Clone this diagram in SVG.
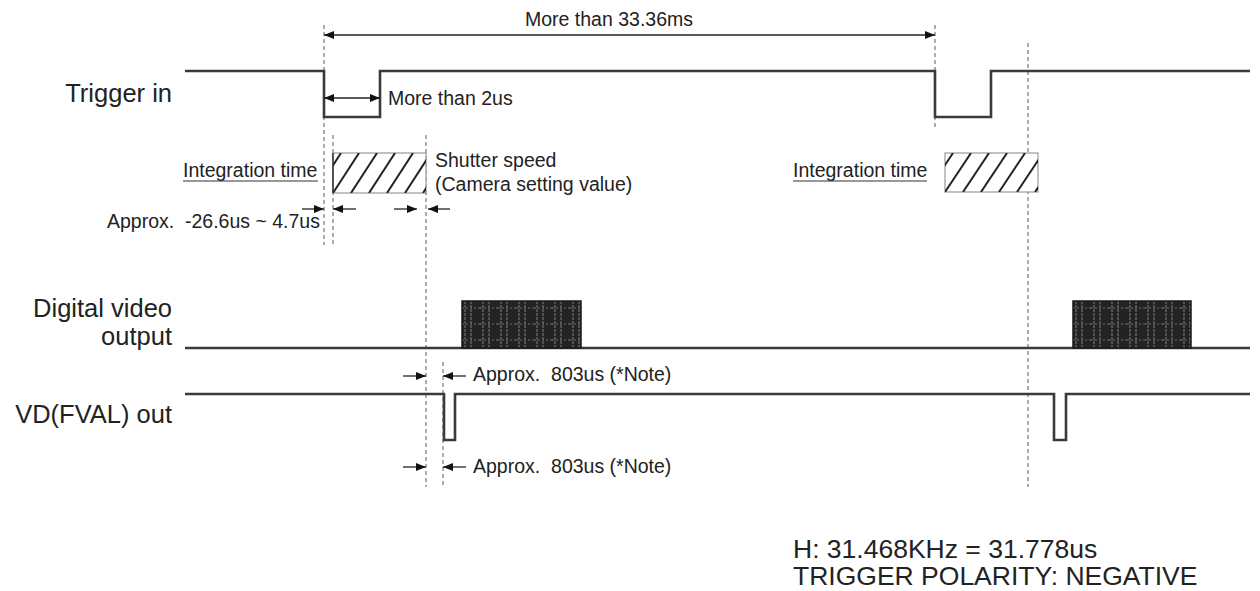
<svg xmlns="http://www.w3.org/2000/svg" width="1260" height="591" viewBox="0 0 1260 591">
<style>
.sig{fill:none;stroke:#3a3a3a;stroke-width:2.6;stroke-linejoin:miter}
.dash{fill:none;stroke:#777;stroke-width:1.2;stroke-dasharray:4 3}
.dim{fill:none;stroke:#222;stroke-width:1.3}
.t{font-family:"Liberation Sans",Arial,sans-serif;fill:#222}
.big{font-size:25.5px}
.sm{font-size:19.5px}
.pre{white-space:pre}
.note{font-size:26.5px}
.hbox{fill:#fff;stroke:#999;stroke-width:1.2}
.hatch{stroke:#222;stroke-width:2}
.ul{stroke:#333;stroke-width:1.2}
</style>
<defs>
<marker id="ah" viewBox="0 0 10 8" refX="10" refY="4" markerWidth="10" markerHeight="8" markerUnits="userSpaceOnUse" orient="auto-start-reverse">
<path d="M0,0 L10,4 L0,8 Z" fill="#111"/>
</marker>
<pattern id="data" patternUnits="userSpaceOnUse" x="462" y="301" width="18" height="16">
<rect width="18" height="16" fill="#232323"/>
<line x1="3" y1="0" x2="3" y2="16" stroke="#8a8a8a" stroke-width="0.9" stroke-dasharray="3 1"/>
<line x1="9" y1="0" x2="9" y2="16" stroke="#8a8a8a" stroke-width="0.9" stroke-dasharray="3 1"/>
<line x1="0" y1="7" x2="18" y2="7" stroke="#7a7a7a" stroke-width="0.9" stroke-dasharray="2 2"/>
</pattern>
<pattern id="data2" patternUnits="userSpaceOnUse" x="1073" y="301" width="18" height="16">
<rect width="18" height="16" fill="#232323"/>
<line x1="3" y1="0" x2="3" y2="16" stroke="#8a8a8a" stroke-width="0.9" stroke-dasharray="3 1"/>
<line x1="9" y1="0" x2="9" y2="16" stroke="#8a8a8a" stroke-width="0.9" stroke-dasharray="3 1"/>
<line x1="0" y1="7" x2="18" y2="7" stroke="#7a7a7a" stroke-width="0.9" stroke-dasharray="2 2"/>
</pattern>
<clipPath id="c1"><rect x="333" y="153" width="93" height="40"/></clipPath>
<clipPath id="c2"><rect x="945" y="153" width="93" height="39"/></clipPath>
</defs>
<rect width="1260" height="591" fill="#fff"/>

<g id="guides">
<line class="dash" x1="324" y1="25" x2="324" y2="245"/>
<line class="dash" x1="333" y1="135" x2="333" y2="245"/>
<line class="dash" x1="426" y1="135" x2="426" y2="487"/>
<line class="dash" x1="443" y1="362" x2="443" y2="487"/>
<line class="dash" x1="935" y1="25" x2="935" y2="130"/>
<line class="dash" x1="1028" y1="43" x2="1028" y2="487"/>
</g>

<g id="trigger-in">
<text class="t big" x="172" y="102" text-anchor="end">Trigger in</text>
<polyline class="sig" points="185,71 324,71 324,117 380,117 380,71 935,71 935,117 991,117 991,71 1250,71"/>
</g>

<g id="integration-1">
<text class="t sm" x="183" y="177">Integration time</text>
<line class="ul" x1="183" y1="181" x2="318" y2="181"/>
<rect class="hbox" x="333" y="153" width="93" height="40"/>
<g clip-path="url(#c1)" class="hatch">
<line x1="315" y1="193" x2="341" y2="153"/>
<line x1="333" y1="193" x2="359" y2="153"/>
<line x1="351" y1="193" x2="377" y2="153"/>
<line x1="369" y1="193" x2="395" y2="153"/>
<line x1="387" y1="193" x2="413" y2="153"/>
<line x1="405" y1="193" x2="431" y2="153"/>
<line x1="423" y1="193" x2="449" y2="153"/>
</g>
<line x1="333" y1="153" x2="333" y2="193" stroke="#333" stroke-width="1.5"/>
<text class="t sm" x="435" y="167">Shutter speed</text>
<text class="t sm" x="435" y="191">(Camera setting value)</text>
<text class="t sm" x="107" y="228">Approx.</text>
<text class="t sm" x="185" y="228">-26.6us ~ 4.7us</text>
</g>

<g id="integration-2">
<text class="t sm" x="793" y="177">Integration time</text>
<line class="ul" x1="793" y1="181" x2="927" y2="181"/>
<rect class="hbox" x="945" y="153" width="93" height="39"/>
<g clip-path="url(#c2)" class="hatch">
<line x1="927" y1="192" x2="953" y2="153"/>
<line x1="945" y1="192" x2="971" y2="153"/>
<line x1="963" y1="192" x2="989" y2="153"/>
<line x1="981" y1="192" x2="1007" y2="153"/>
<line x1="999" y1="192" x2="1025" y2="153"/>
<line x1="1017" y1="192" x2="1043" y2="153"/>
<line x1="1035" y1="192" x2="1061" y2="153"/>
</g>
</g>

<g id="digital-video-output">
<text class="t big" x="172" y="317" text-anchor="end">Digital video</text>
<text class="t big" x="172" y="345" text-anchor="end">output</text>
<line class="sig" x1="185" y1="348" x2="1250" y2="348"/>
<rect x="462" y="301" width="119" height="47" fill="url(#data)" stroke="#1a1a1a" stroke-width="1.5"/>
<rect x="1073" y="301" width="118" height="47" fill="url(#data2)" stroke="#1a1a1a" stroke-width="1.5"/>
</g>

<g id="vd-fval-out">
<text class="t big" x="172" y="423" text-anchor="end">VD(FVAL) out</text>
<polyline class="sig" points="185,394 444,394 444,440 455,440 455,394 1054,394 1054,440 1066,440 1066,394 1250,394"/>
<text class="t sm pre" x="473" y="381">Approx.  803us (*Note)</text>
<text class="t sm pre" x="473" y="473">Approx.  803us (*Note)</text>
</g>

<g id="connectors">
<line class="dim" x1="324" y1="35" x2="935" y2="35" marker-start="url(#ah)" marker-end="url(#ah)"/>
<text class="t sm" x="525" y="26">More than 33.36ms</text>
<line class="dim" x1="324" y1="98" x2="380" y2="98" marker-start="url(#ah)" marker-end="url(#ah)"/>
<text class="t sm" x="388" y="105">More than 2us</text>
<line class="dim" x1="302" y1="209" x2="324" y2="209" marker-end="url(#ah)"/>
<line class="dim" x1="356" y1="209" x2="333" y2="209" marker-end="url(#ah)"/>
<line class="dim" x1="394" y1="209" x2="417" y2="209" marker-end="url(#ah)"/>
<line class="dim" x1="450" y1="209" x2="428" y2="209" marker-end="url(#ah)"/>
<line class="dim" x1="403" y1="376" x2="426" y2="376" marker-end="url(#ah)"/>
<line class="dim" x1="466" y1="376" x2="443" y2="376" marker-end="url(#ah)"/>
<line class="dim" x1="403" y1="467" x2="426" y2="467" marker-end="url(#ah)"/>
<line class="dim" x1="466" y1="467" x2="443" y2="467" marker-end="url(#ah)"/>
</g>

<g id="notes">
<text class="t note" x="793" y="558">H: 31.468KHz = 31.778us</text>
<text class="t note" x="793" y="585">TRIGGER POLARITY: NEGATIVE</text>
</g>
</svg>
